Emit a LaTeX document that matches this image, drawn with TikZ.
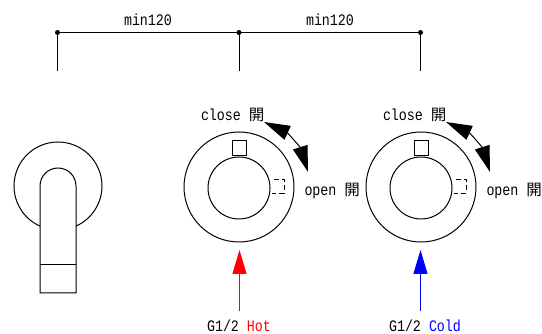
\documentclass[tikz,border=0pt]{standalone}
\usepackage{fontspec}
\setmainfont[FakeStretch=0.833]{Liberation Mono}
\newfontfamily\jpfont{Noto Sans CJK JP}
\usetikzlibrary{positioning,arrows.meta}
\newcommand{\kai}{{\jpfont\fontsize{15.5pt}{15.5pt}\selectfont 開}}
\begin{document}
\begin{tikzpicture}[x=1pt,y=-1pt,line width=1pt,
	lbl/.style={inner sep=0pt,font=\fontsize{16pt}{16pt}\selectfont},
	ring/.style={circle,draw,inner sep=0pt,minimum size=110pt},
	hub/.style={circle,draw,inner sep=0pt,minimum size=62pt},
	keybox/.style={rectangle,draw,inner sep=0pt,minimum width=14pt,minimum height=15pt},
	dimdot/.style={circle,fill=black,inner sep=0pt,minimum size=5pt},
	turn/.style={{Triangle[length=26pt,width=15pt]}-{Triangle[length=26pt,width=15pt]},bend left=24},
	feed/.style={-{Triangle[length=24pt,width=14pt]}}]
	\useasboundingbox (0,0) rectangle (542,334);
	% dimension line
	\node[dimdot] (dimL) at (57.5,32.5) {};
	\node[dimdot] (dimM) at (239,32.5) {};
	\node[dimdot] (dimR) at (420.5,32.5) {};
	\coordinate (footL) at (57.5,71);
	\coordinate (footM) at (239,71);
	\coordinate (footR) at (420.5,71);
	\draw (dimL.center) -- (dimM.center) -- (dimR.center);
	\draw (dimL.center) -- (footL);
	\draw (dimM.center) -- (footM);
	\draw (dimR.center) -- (footR);
	\node[lbl] (minL) at (148,20) {min120};
	\node[lbl] (minR) at (330,20) {min120};
	% spout
	\node[circle,draw,inner sep=0pt,minimum size=88pt] (body) at (58,186) {};
	\draw[fill=white] (40,293) -- (40,186) arc[start angle=180,end angle=0,radius=18pt] -- (76,293) -- cycle;
	\coordinate (bandL) at (40,265);
	\coordinate (bandR) at (76,265);
	\draw (bandL) -- (bandR);
	% hot valve
	\node[ring] (ringH) at (239,187) {};
	\node[hub] (hubH) at (239,188) {};
	\node[keybox,above=0pt of hubH] (keyH) {};
	\coordinate (dashAH) at (274,179.5);
	\coordinate (dashBH) at (284,179.5);
	\coordinate (dashCH) at (284,193.5);
	\coordinate (dashDH) at (272,193.5);
	\draw[dash pattern=on 5pt off 3pt] (dashAH) -- (dashBH) -- (dashCH) -- (dashDH);
	\coordinate (closeH) at (264,122);
	\coordinate (openH) at (308,172);
	\draw[turn] (closeH) to (openH);
	\node[lbl,anchor=west] (closeHl) at (200.5,115) {close \kai};
	\node[lbl,anchor=west] (openHl) at (304,191) {open \kai};
	\coordinate (tipH) at (239.5,250);
	\coordinate (tailH) at (239.5,311);
	\draw[feed,color=red] (tailH) -- (tipH);
	\node[lbl] (hotl) at (239,326) {G1/2 \textcolor{red}{Hot}};
	% cold valve
	\node[ring] (ringC) at (421,187) {};
	\node[hub] (hubC) at (421,188) {};
	\node[keybox,above=0pt of hubC] (keyC) {};
	\coordinate (dashAC) at (456,179.5);
	\coordinate (dashBC) at (466,179.5);
	\coordinate (dashCC) at (466,193.5);
	\coordinate (dashDC) at (454,193.5);
	\draw[dash pattern=on 5pt off 3pt] (dashAC) -- (dashBC) -- (dashCC) -- (dashDC);
	\coordinate (closeC) at (446,122);
	\coordinate (openC) at (490,172);
	\draw[turn] (closeC) to (openC);
	\node[lbl,anchor=west] (closeCl) at (382.5,115) {close \kai};
	\node[lbl,anchor=west] (openCl) at (486,191) {open \kai};
	\coordinate (tipC) at (420.5,250);
	\coordinate (tailC) at (420.5,311);
	\draw[feed,color=blue] (tailC) -- (tipC);
	\node[lbl] (coldl) at (425,326) {G1/2 \textcolor{blue}{Cold}};
\end{tikzpicture}
\end{document}
